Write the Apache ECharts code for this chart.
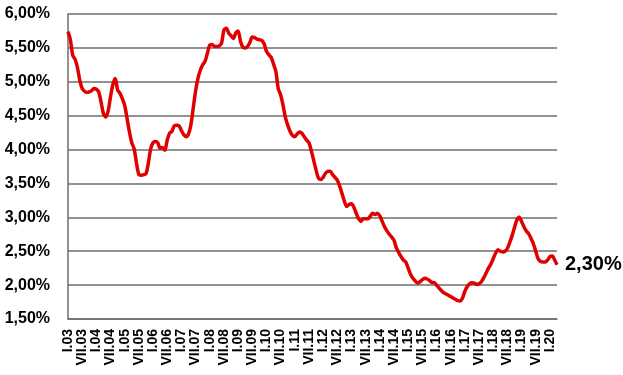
<!DOCTYPE html>
<html>
<head>
<meta charset="utf-8">
<script src="https://cdn.jsdelivr.net/npm/echarts@6/dist/echarts.min.js"></script>
<style>
  html, body { margin: 0; padding: 0; background: #fff; }
  #chart { width: 623px; height: 375px; }
</style>
</head>
<body>
<div id="chart"></div>
<script>
// months from I.03 up to IV.20
var romanMonths = ['I', 'II', 'III', 'IV', 'V', 'VI', 'VII', 'VIII', 'IX', 'X', 'XI', 'XII'];
var firstYear = 3;
var lastYear = 20;
var lastMonth = 4;

// rate in %, one per month
var rates = [
  5.74, 5.62, 5.39, 5.33, 5.21, 5.02, 4.90, 4.86, 4.84, 4.85, 4.87, 4.90,
  4.89, 4.85, 4.70, 4.53, 4.48, 4.57, 4.78, 4.96, 5.05, 4.88, 4.83, 4.75,
  4.65, 4.46, 4.26, 4.10, 4.01, 3.80, 3.63, 3.62, 3.63, 3.64, 3.80, 4.01,
  4.10, 4.12, 4.10, 4.02, 4.03, 3.99, 4.14, 4.24, 4.27, 4.35, 4.36, 4.35,
  4.28, 4.22, 4.19, 4.23, 4.36, 4.61, 4.86, 5.05, 5.17, 5.25, 5.30, 5.42,
  5.54, 5.55, 5.52, 5.52, 5.53, 5.57, 5.76, 5.79, 5.72, 5.68, 5.64, 5.72,
  5.75, 5.60, 5.51, 5.50, 5.52, 5.58, 5.66, 5.65, 5.63, 5.62, 5.61, 5.56,
  5.45, 5.40, 5.36, 5.26, 5.15, 4.90, 4.81, 4.66, 4.48, 4.36, 4.27, 4.21,
  4.19, 4.23, 4.26, 4.24, 4.19, 4.14, 4.10, 3.98, 3.84, 3.70, 3.58, 3.56,
  3.59, 3.65, 3.68, 3.68, 3.63, 3.59, 3.55, 3.46, 3.35, 3.24, 3.16, 3.19,
  3.20, 3.15, 3.06, 2.98, 2.94, 2.98, 2.98, 2.98, 3.02, 3.06, 3.04, 3.06,
  3.02, 2.94, 2.86, 2.80, 2.75, 2.71, 2.66, 2.55, 2.48, 2.42, 2.37, 2.34,
  2.25, 2.16, 2.10, 2.06, 2.03, 2.05, 2.08, 2.10, 2.09, 2.07, 2.04, 2.04,
  2.00, 1.96, 1.92, 1.89, 1.87, 1.85, 1.83, 1.81, 1.79, 1.77, 1.765, 1.81,
  1.91, 1.98, 2.02, 2.035, 2.03, 2.01, 2.02, 2.05, 2.11, 2.18, 2.25, 2.31,
  2.39, 2.47, 2.52, 2.50, 2.49, 2.50, 2.54, 2.63, 2.73, 2.85, 2.96, 3.00,
  2.94, 2.86, 2.80, 2.76, 2.69, 2.61, 2.50, 2.39, 2.35, 2.34, 2.34, 2.37,
  2.42, 2.43, 2.37, 2.30
];

var yMin = 1.5;
var yMax = 6;
var yStep = 0.5;

var months = [];
for (var y = firstYear; y <= lastYear; y++) {
  for (var m = 0; m < 12; m++) {
    if (y === lastYear && m >= lastMonth) break;
    months.push(romanMonths[m] + '.' + (y < 10 ? '0' + y : y));
  }
}

function pct(v) {
  return v.toFixed(2).replace('.', ',') + '%';
}

var font = '"Liberation Sans", Arial, sans-serif';
var lineGray = '#6e6e6e';

var myChart = echarts.init(document.getElementById('chart'));
var option = {
  animation: false,
  grid: {
    left: 68,
    right: 66,
    top: 14,
    bottom: 56
  },
  xAxis: {
    type: 'category',
    data: months,
    boundaryGap: false,
    axisLine: { show: true, lineStyle: { color: lineGray, width: 1.5 } },
    axisTick: { show: false },
    axisLabel: {
      interval: function (index) { return index % 6 === 0; },
      rotate: 90,
      margin: 10,
      color: '#000',
      fontFamily: font,
      fontWeight: 'bold',
      fontSize: 14
    },
    splitLine: { show: false }
  },
  yAxis: {
    type: 'value',
    min: yMin,
    max: yMax,
    interval: yStep,
    axisLine: { show: true, lineStyle: { color: lineGray, width: 1.5 } },
    axisTick: { show: false },
    axisLabel: {
      formatter: pct,
      margin: 18,
      color: '#000',
      fontFamily: font,
      fontWeight: 'bold',
      fontSize: 16
    },
    splitLine: { show: true, lineStyle: { color: lineGray, width: 1.5 } }
  },
  series: [{
    type: 'line',
    data: rates,
    showSymbol: false,
    smooth: 0.3,
    lineStyle: { color: '#e00000', width: 3.5 },
    itemStyle: { color: '#e00000' },
    endLabel: {
      show: true,
      formatter: function (p) { return pct(p.value); },
      distance: 8,
      color: '#000',
      fontFamily: font,
      fontWeight: 'bold',
      fontSize: 20
    }
  }]
};
myChart.setOption(option);
</script>
</body>
</html>
